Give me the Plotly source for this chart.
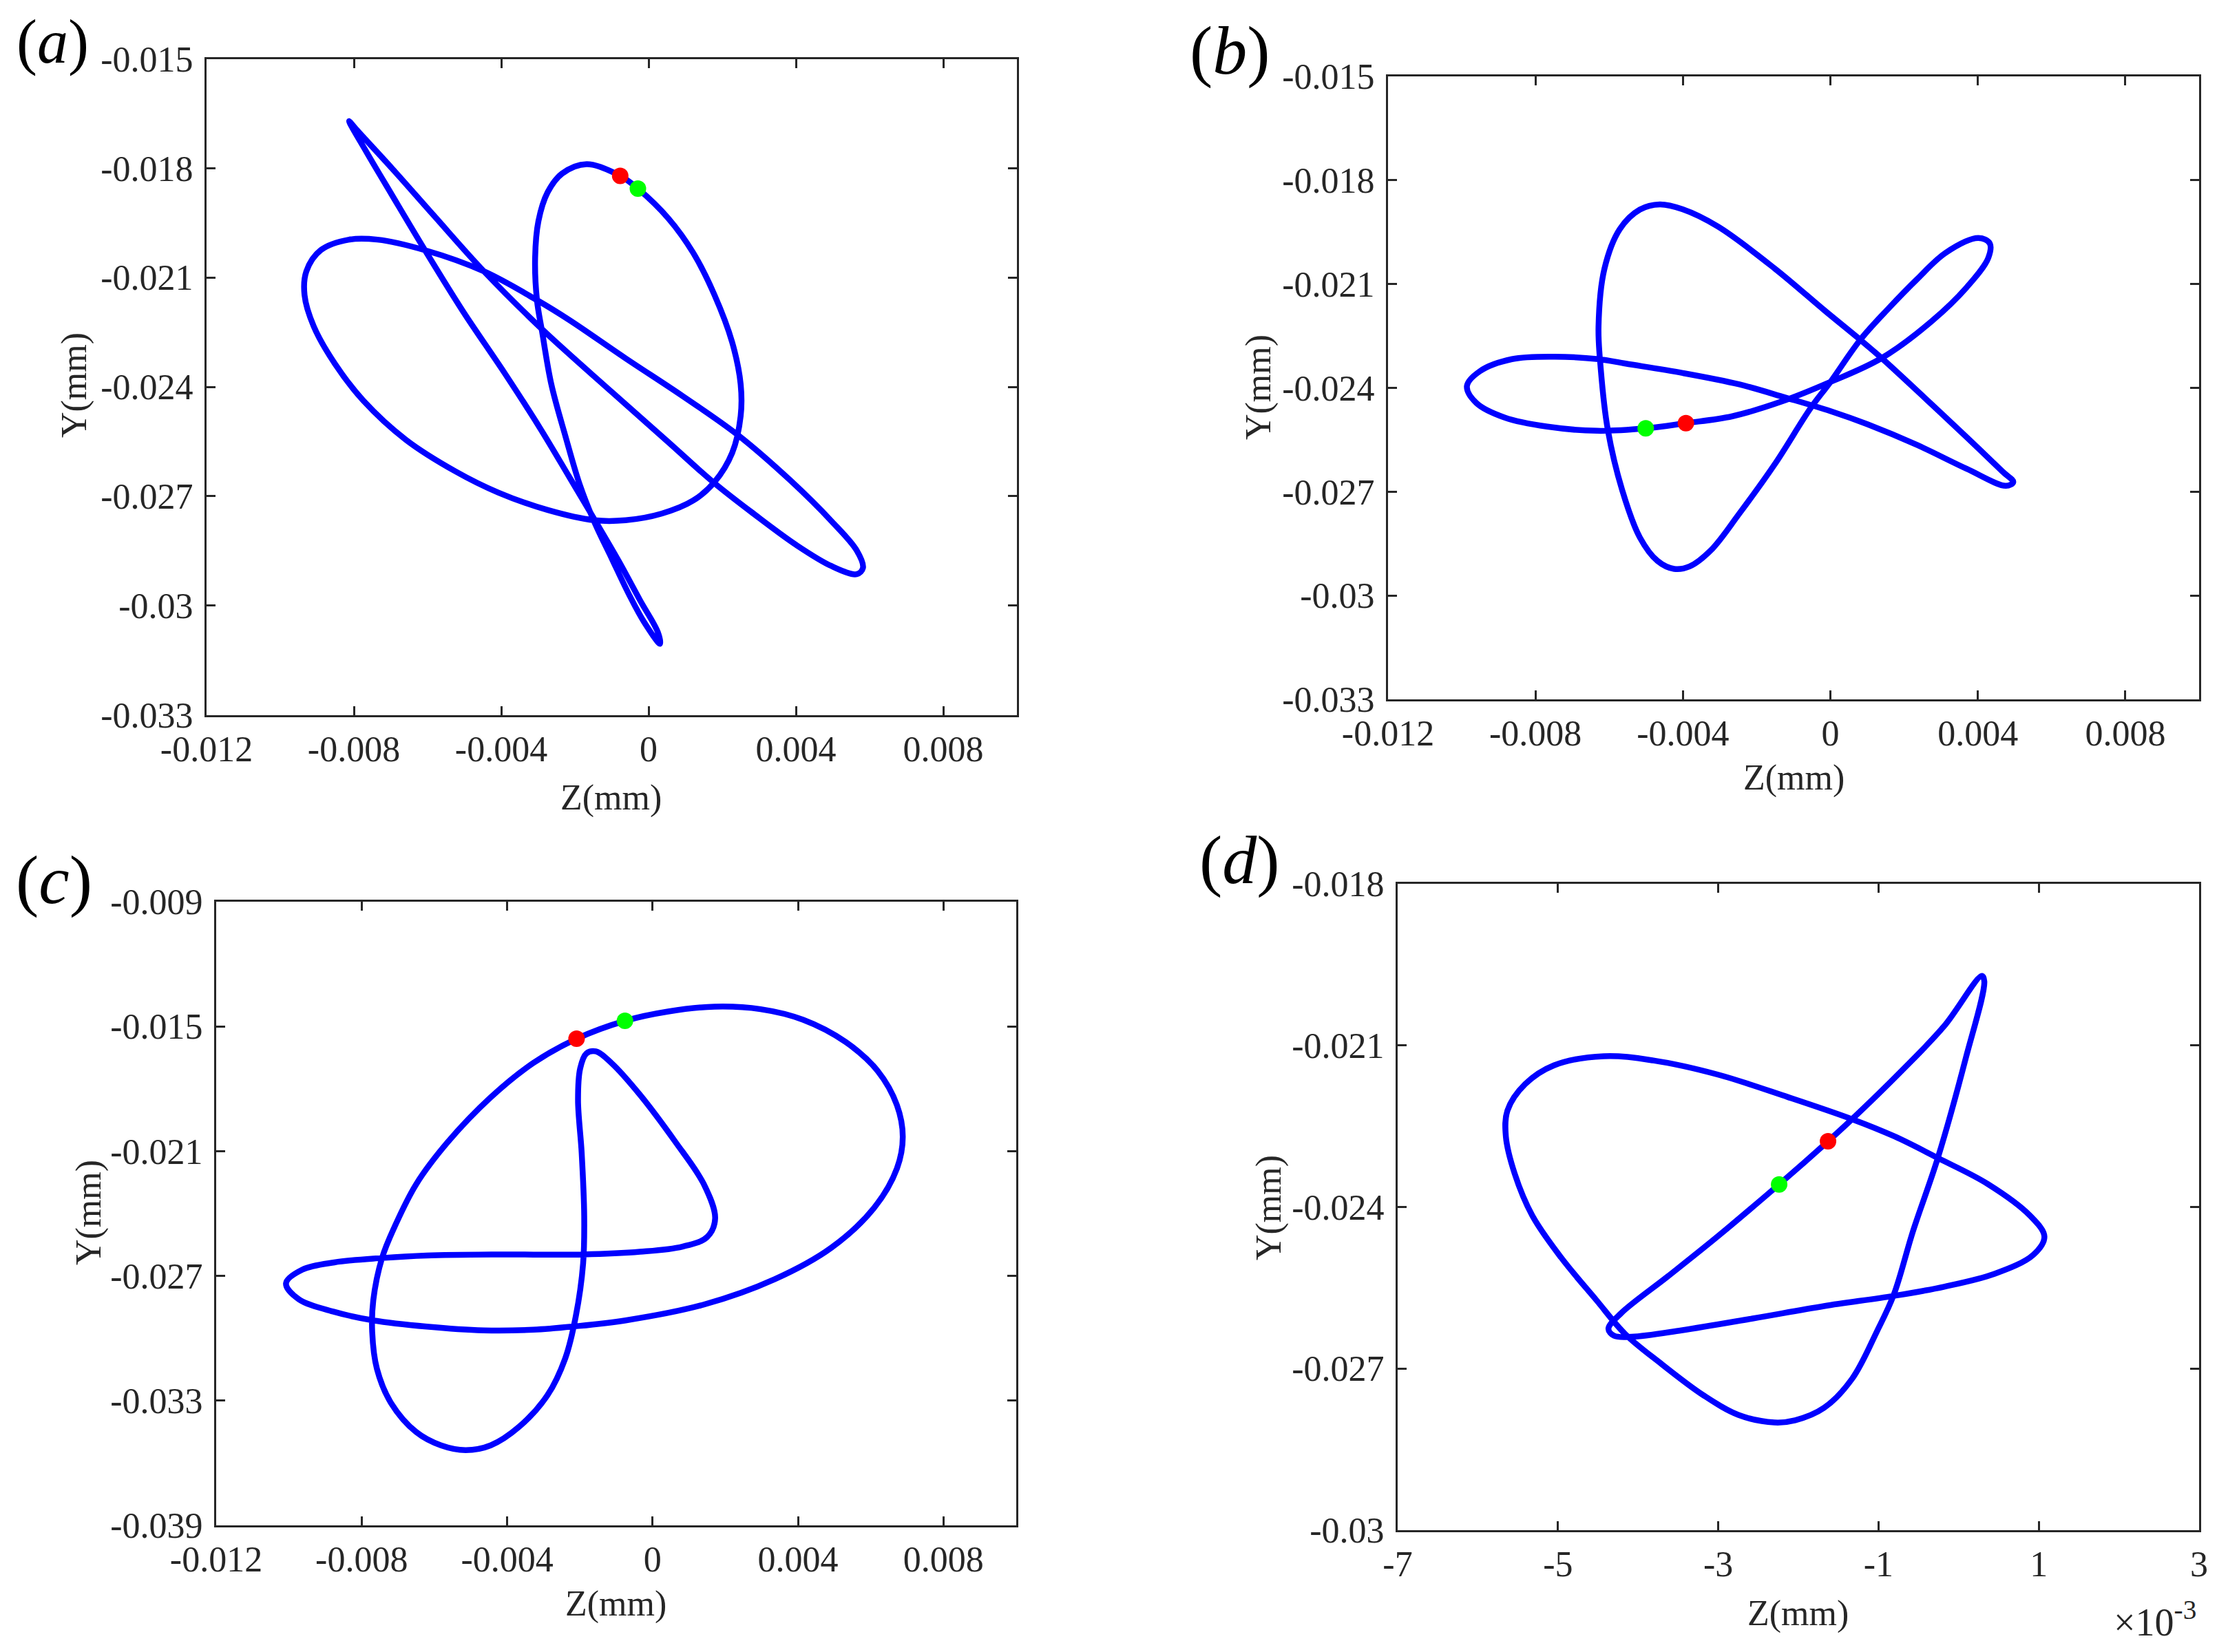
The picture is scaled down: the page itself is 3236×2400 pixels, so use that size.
import numpy as np
import plotly.graph_objects as go

# curve values, in units of 1e-3 mm
z_a = [-0.77, -1.68, -2.35, -2.74, -2.99, -3.08, -3.03, -2.89, -2.64, -2.25, -1.87, -1.48, -1.00, -0.52, -0.13, 0.31,
       0.25, -0.23, -0.81, -1.48, -2.16, -2.93, -3.89, -5.05, -6.07, -6.97, -7.65, -8.13,
       -7.94, -6.97, -5.82, -4.47, -2.89, -1.00, 0.54, 1.75, 2.85, 4.01, 4.97, 5.65, 5.82, 5.65, 4.97, 3.82, 2.41, 0.92,
       -0.62, -2.16, -3.03, -4.47, -6.07, -7.36, -8.13, -8.90, -9.29, -9.34, -9.09, -8.52, -7.75, -6.59, -5.24, -4.08,
       -2.74, -1.48, -0.62, 0.35, 1.21, 1.79, 2.27, 2.50, 2.50, 2.27, 1.79, 1.21, 0.54, -0.29, -0.77]
y_a = [-18.21, -17.89, -18.15, -18.66, -19.45, -20.46, -21.62, -22.49, -23.93, -25.38, -26.68, -27.69, -28.71, -29.72, -30.44, -31.05,
       -30.73, -29.86, -28.78, -27.62, -26.46, -25.16, -23.65, -21.91, -20.25, -18.73, -17.57, -16.71,
       -16.93, -18.00, -19.31, -20.83, -22.42, -24.14, -25.52, -26.61, -27.48, -28.34, -28.92, -29.14, -28.97, -28.49, -27.69, -26.54, -25.31, -24.25,
       -23.22, -22.16, -21.62, -20.83, -20.25, -19.96, -19.96, -20.25, -20.83, -21.48, -22.34, -23.36, -24.37, -25.45, -26.32, -26.90,
       -27.38, -27.66, -27.66, -27.48, -27.12, -26.61, -25.81, -24.80, -23.93, -22.78, -21.48, -20.32, -19.38, -18.56, -18.21]

z_b = [-3.92, -2.66, -1.31, 0, 1.39, 2.74, 3.70, 4.28, 4.32, 4.01, 3.12, 2.35, 1.58, 0.81, 0, -0.54, -1.50, -2.47, -3.24, -3.82, -4.24, -4.69,
       -5.17, -5.65, -6.04, -6.23, -6.29, -6.13, -5.71, -5.17, -4.63, -4.01, -3.05, -1.50, -0.15, 0.81, 1.39, 2.55, 3.70, 4.67, 4.96, 4.76,
       3.70, 2.35, 1.00, 0, -1.22, -2.47, -4.01, -5.55, -6.29, -7.48, -8.64, -9.51, -9.86, -9.60, -8.83, -7.68, -6.33, -5.01, -3.92]
y_b = [-25.02, -24.82, -24.39, -23.83, -23.14, -22.08, -21.09, -20.25, -19.82, -19.67, -20.10, -20.86, -21.70, -22.61, -23.83, -24.59, -26.19, -27.63, -28.69, -29.16, -29.23, -29.00,
       -28.32, -26.95, -25.20, -23.45, -22.23, -20.56, -19.41, -18.85, -18.70, -18.84, -19.34, -20.56, -21.77, -22.61, -23.14, -24.28, -25.43, -26.42, -26.72, -26.83,
       -26.34, -25.65, -25.05, -24.67, -24.28, -23.90, -23.57, -23.30, -23.17, -23.10, -23.17, -23.52, -23.95, -24.44, -24.86, -25.12, -25.24, -25.17, -25.02]

z_c = [-2.09, -3.28, -4.45, -5.63, -6.50, -7.09, -7.44, -7.68, -7.71, -7.58, -7.19, -6.50, -5.82, -5.14, -4.45, -3.67, -2.89, -2.40, -2.11, -1.91, -1.88, -1.95,
       -2.05, -1.99, -1.82, -1.56, -1.13, -0.35, 0.63, 1.41, 1.72, 1.50, 0.82, -0.35, -1.91, -4.26, -6.21, -7.44, -8.75, -9.63, -10.08, -9.73,
       -8.75, -7.68, -6.21, -4.65, -3.28, -2.21, -0.74, 1.41, 3.36, 4.92, 6.09, 6.72, 6.88, 6.72, 6.19, 5.31, 4.14, 2.97, 1.70, 0.43, -0.76, -2.09]
y_c = [-15.59, -16.76, -18.41, -20.56, -22.59, -24.62, -26.14, -28.17, -29.69, -31.47, -33.12, -34.51, -35.15, -35.38, -35.15, -34.26, -32.74, -30.96, -28.93, -26.40, -24.12, -21.07,
       -18.54, -17.01, -16.30, -16.20, -16.76, -18.28, -20.56, -22.59, -24.24, -25.13, -25.59, -25.84, -25.97, -25.97, -26.02, -26.14, -26.35, -26.70, -27.36, -28.12,
       -28.73, -29.14, -29.44, -29.62, -29.59, -29.44, -29.14, -28.38, -27.16, -25.64, -23.73, -21.83, -20.31, -18.79, -17.14, -15.75, -14.68, -14.17, -14.05, -14.28, -14.73, -15.59]

z_d = [-1.63, -1.33, -0.71, -0.18, 0.29, 0.32, 0.09, -0.26, -0.57, -0.81, -1.02, -1.33, -1.68, -2.04, -2.30, -2.75, -3.19, -3.72, -4.16, -4.52, -4.96, -5.32, -5.54, -5.65, -5.63, -5.41,
       -5.05, -4.43, -3.81, -3.01, -2.13, -1.33, -0.80, -0.26, 0.36, 0.89, 1.07, 0.93, 0.45, -0.18, -0.81, -1.68, -2.57, -3.46, -4.08, -4.30, -4.37, -4.21, -3.63, -3.01, -2.24, -1.63]
y_d = [-22.78, -22.37, -21.47, -20.64, -19.71, -19.81, -21.23, -23.09, -24.45, -25.63, -26.31, -27.19, -27.73, -27.96, -28.00, -27.86, -27.49, -26.90, -26.36, -25.73, -24.94, -24.16, -23.38, -22.69, -22.21, -21.72,
       -21.37, -21.20, -21.28, -21.54, -21.96, -22.37, -22.69, -23.09, -23.57, -24.16, -24.55, -24.89, -25.24, -25.48, -25.65, -25.84, -26.07, -26.29, -26.41, -26.39, -26.26, -25.97, -25.29, -24.55, -23.58, -22.78]

# marker positions, 1e-3 mm: [panel a, b, c, d]
red_z = [-0.77, -3.92, -2.09, -1.63]
red_y = [-18.21, -25.02, -15.59, -22.78]
green_z = [-0.29, -5.01, -0.76, -2.24]
green_y = [-18.56, -25.17, -14.73, -23.58]

letters = ["a", "b", "c", "d"]
curves = [(z_a, y_a), (z_b, y_b), (z_c, y_c), (z_d, y_d)]

x_ticks = [-0.012, -0.008, -0.004, 0, 0.004, 0.008]
x_labels = ["-0.012", "-0.008", "-0.004", "0", "0.004", "0.008"]
x_ticks_d = [-0.007, -0.005, -0.003, -0.001, 0.001, 0.003]
x_labels_d = ["-7", "-5", "-3", "-1", "1", "3"]
y_ticks_ab = [-0.015, -0.018, -0.021, -0.024, -0.027, -0.03, -0.033]
y_labels_ab = ["-0.015", "-0.018", "-0.021", "-0.024", "-0.027", "-0.03", "-0.033"]
y_ticks_c = [-0.009, -0.015, -0.021, -0.027, -0.033, -0.039]
y_labels_c = ["-0.009", "-0.015", "-0.021", "-0.027", "-0.033", "-0.039"]
y_ticks_d = [-0.018, -0.021, -0.024, -0.027, -0.03]
y_labels_d = ["-0.018", "-0.021", "-0.024", "-0.027", "-0.03"]

# the page puts 8px of body margin around the plot
PAGE = 8
W, H = 3236 - 2 * PAGE, 2400 - 2 * PAGE
FONT = "Liberation Serif"
INK = "#262626"


def px(x):
    return (x - PAGE) / W


def py(y):
    return 1 - (y - PAGE) / H


# panel boxes in page pixels: left, right, top, bottom
boxes = [(300, 1477, 85.5, 1038.5), (2016, 3194, 111, 1016), (314, 1476, 1310, 2216), (2030, 3194, 1284, 2223)]
x_ranges = [(-0.012, 0.01), (-0.012, 0.01), (-0.012, 0.01), (-0.007, 0.003)]
y_ranges = [(-0.033, -0.015), (-0.033, -0.015), (-0.039, -0.009), (-0.03, -0.018)]
x_axes = [(x_ticks, x_labels)] * 3 + [(x_ticks_d, x_labels_d)]
y_axes = [(y_ticks_ab, y_labels_ab), (y_ticks_ab, y_labels_ab), (y_ticks_c, y_labels_c), (y_ticks_d, y_labels_d)]
letter_pos = [(76, 61), (1786, 74), (78, 1278), (1800, 1249)]
z_title_pos = [(887, 1159), (2605, 1130), (894, 2330), (2611, 2344)]
y_title_pos = [(108, 560), (1828, 562), (129, 1762), (1843, 1755)]

fig = go.Figure()
layout = {}
annotations = []

for i in range(4):
    xref, yref = "x" + str(i + 1), "y" + str(i + 1)
    z, y = curves[i]
    fig.add_trace(go.Scatter(x=np.array(z) * 1e-3, y=np.array(y) * 1e-3, mode="lines", xaxis=xref, yaxis=yref,
                             line=dict(color="#0000FF", width=8.5, shape="spline", smoothing=1.0), showlegend=False))
    fig.add_trace(go.Scatter(x=[red_z[i] * 1e-3], y=[red_y[i] * 1e-3], mode="markers", xaxis=xref, yaxis=yref,
                             marker=dict(color="#FF0000", size=24), showlegend=False))
    fig.add_trace(go.Scatter(x=[green_z[i] * 1e-3], y=[green_y[i] * 1e-3], mode="markers", xaxis=xref, yaxis=yref,
                             marker=dict(color="#00FF00", size=24), showlegend=False))

    left, right, top, bottom = boxes[i]
    common = dict(showgrid=False, zeroline=False, showline=True, linecolor=INK, linewidth=3, mirror="allticks",
                  ticks="inside", ticklen=13, tickwidth=3, tickcolor=INK, tickmode="array",
                  tickfont=dict(family=FONT, size=52, color=INK), automargin=False)
    layout["xaxis" + str(i + 1)] = dict(common, domain=[px(left), px(right)], anchor=yref, range=list(x_ranges[i]),
                                        tickvals=x_axes[i][0], ticktext=x_axes[i][1], ticklabelstandoff=2)
    layout["yaxis" + str(i + 1)] = dict(common, domain=[py(bottom), py(top)], anchor=xref, range=list(y_ranges[i]),
                                        tickvals=y_axes[i][0], ticktext=y_axes[i][1], ticklabelstandoff=6)
    annotations.append(dict(text="(<i>" + letters[i] + "</i>)", x=px(letter_pos[i][0]), y=py(letter_pos[i][1]),
                            xref="paper", yref="paper", showarrow=False, xanchor="center", yanchor="middle",
                            font=dict(family=FONT, size=90 if i == 0 else 100, color="black")))
    annotations.append(dict(text="Z(mm)", x=px(z_title_pos[i][0]), y=py(z_title_pos[i][1]),
                            xref="paper", yref="paper", showarrow=False, xanchor="center", yanchor="middle",
                            font=dict(family=FONT, size=52, color=INK)))
    annotations.append(dict(text="Y(mm)", x=px(y_title_pos[i][0]), y=py(y_title_pos[i][1]), textangle=-90,
                            xref="paper", yref="paper", showarrow=False, xanchor="center", yanchor="middle",
                            font=dict(family=FONT, size=52, color=INK)))

annotations.append(dict(text="×10<sup>-3</sup>", x=px(3192), y=py(2352), xref="paper", yref="paper", showarrow=False,
                        xanchor="right", yanchor="middle", font=dict(family=FONT, size=56, color=INK)))

fig.update_layout(width=W, height=H, margin=dict(l=0, r=0, t=0, b=0), plot_bgcolor="white", paper_bgcolor="white",
                  annotations=annotations, **layout)
fig.write_html("out.html")
